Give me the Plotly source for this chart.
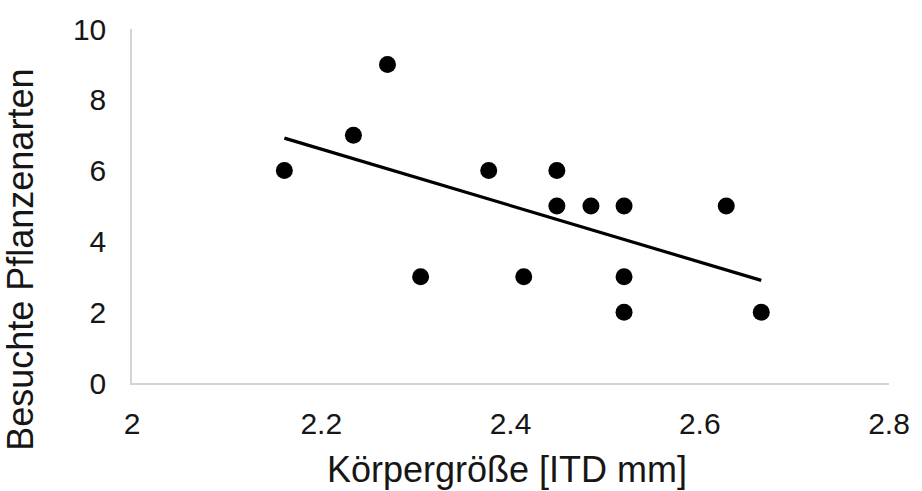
import numpy as np
import plotly.graph_objects as go

# Data
koerpergroesse = [2.161, 2.234, 2.270, 2.305, 2.377, 2.414, 2.449, 2.449,
                  2.485, 2.520, 2.520, 2.520, 2.628, 2.665]
pflanzenarten = [6, 7, 9, 3, 6, 3, 6, 5, 5, 5, 3, 2, 5, 2]

x_ticks = [2, 2.2, 2.4, 2.6, 2.8]
x_ticklabels = ["2", "2.2", "2.4", "2.6", "2.8"]
y_ticks = [0, 2, 4, 6, 8, 10]

x_title = "Körpergröße [ITD mm]"
y_title = "Besuchte Pflanzenarten"

# Linear trendline (least squares)
xs = np.array(koerpergroesse)
ys = np.array(pflanzenarten)
slope, intercept = np.polyfit(xs, ys, 1)
trend_x = [xs.min(), xs.max()]
trend_y = [slope * v + intercept for v in trend_x]

FONT = "Liberation Sans, Arial, sans-serif"
TXT = "#161616"

fig = go.Figure()
fig.add_trace(go.Scatter(
    x=koerpergroesse, y=pflanzenarten, mode="markers",
    marker=dict(color="black", size=17, line=dict(width=0)),
    showlegend=False, hoverinfo="skip"))
fig.add_trace(go.Scatter(
    x=trend_x, y=trend_y, mode="lines",
    line=dict(color="black", width=3.2),
    showlegend=False, hoverinfo="skip"))

fig.update_layout(
    width=922, height=491,
    margin=dict(l=132, r=28, t=27, b=108),
    paper_bgcolor="white", plot_bgcolor="white",
    font=dict(family=FONT, color=TXT, size=30),
    xaxis=dict(range=[2, 2.8], tickvals=x_ticks, ticktext=x_ticklabels,
               showgrid=False, zeroline=False, showline=True,
               linecolor="#d4d4d4", linewidth=1.5, ticks="",
               tickfont=dict(size=30, color=TXT, family=FONT),
               ticklabelstandoff=13),
    yaxis=dict(range=[0, 10], tickvals=y_ticks,
               showgrid=False, zeroline=False, showline=True,
               linecolor="#d4d4d4", linewidth=1.5, ticks="",
               tickfont=dict(size=30, color=TXT, family=FONT),
               ticklabelstandoff=18),
    annotations=[
        dict(text=x_title, xref="paper", yref="paper", x=0.4948, y=-0.245,
             xanchor="center", yanchor="middle", showarrow=False,
             font=dict(size=36, color=TXT, family=FONT)),
        dict(text=y_title, xref="paper", yref="paper", x=-0.1466, y=0.348,
             xanchor="center", yanchor="middle", showarrow=False, textangle=-90,
             font=dict(size=36, color=TXT, family=FONT)),
    ],
)

fig.write_html("out.html")
